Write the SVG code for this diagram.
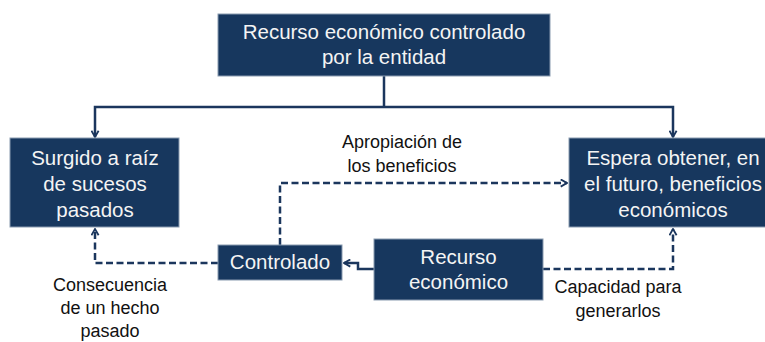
<svg xmlns="http://www.w3.org/2000/svg" width="765" height="342" viewBox="0 0 765 342">
<style>
.box{fill:#17375e;stroke:#8a9bb0;stroke-width:1}
.bt{font-family:"Liberation Sans",Arial,sans-serif;font-size:20.5px;fill:#f4f4f4;text-anchor:middle}
.lb{font-family:"Liberation Sans",Arial,sans-serif;font-size:18px;fill:#111111;text-anchor:middle}
.ln{fill:none;stroke:#1b365d;stroke-width:2.5;stroke-linejoin:miter}
.ds{fill:none;stroke:#1b365d;stroke-width:2.5;stroke-dasharray:7 3.5}
</style>
<defs>
<marker id="arr" viewBox="0 0 10 10" refX="9" refY="5" markerWidth="9" markerHeight="9" markerUnits="userSpaceOnUse" orient="auto">
<path d="M2,1 L9,5 L2,9" fill="none" stroke="#1b365d" stroke-width="2"/>
</marker>
</defs>
<rect width="765" height="342" fill="#ffffff"/>
<g id="connectors">
<polyline class="ln" points="384,76 384,107"/>
<polyline class="ln" points="384,107 95,107 95,137" marker-end="url(#arr)"/>
<polyline class="ln" points="384,107 673,107 673,137" marker-end="url(#arr)"/>
<polyline class="ln" points="374,269 358,269 358,263 344,263" marker-end="url(#arr)"/>
<polyline class="ds" points="218,263 95,263 95,229" marker-end="url(#arr)"/>
<polyline class="ds" points="280,245 280,183 567,183" marker-end="url(#arr)"/>
<polyline class="ds" points="543,269 673,269 673,229" marker-end="url(#arr)"/>
</g>
<g id="top">
<rect class="box" x="218" y="14" width="332" height="62"/>
<text class="bt" x="384" y="39">Recurso económico controlado</text>
<text class="bt" x="384" y="64">por la entidad</text>
</g>
<g id="surgido">
<rect class="box" x="10" y="138" width="169" height="89"/>
<text class="bt" x="95" y="165">Surgido a raíz</text>
<text class="bt" x="95" y="191">de sucesos</text>
<text class="bt" x="95" y="217">pasados</text>
</g>
<g id="espera">
<rect class="box" x="569" y="138" width="210" height="89"/>
<text class="bt" x="673" y="165">Espera obtener, en</text>
<text class="bt" x="673" y="191">el futuro, beneficios</text>
<text class="bt" x="673" y="217">económicos</text>
</g>
<g id="controlado">
<rect class="box" x="218" y="245" width="124" height="35"/>
<text class="bt" x="280" y="269">Controlado</text>
</g>
<g id="recurso">
<rect class="box" x="374" y="239" width="169" height="61"/>
<text class="bt" x="458.5" y="264">Recurso</text>
<text class="bt" x="458.5" y="289">económico</text>
</g>
<g id="labels">
<text class="lb" x="402" y="148">Apropiación de</text>
<text class="lb" x="402" y="172">los beneficios</text>
<text class="lb" x="110" y="291">Consecuencia</text>
<text class="lb" x="110" y="314">de un hecho</text>
<text class="lb" x="110" y="337">pasado</text>
<text class="lb" x="618" y="293">Capacidad para</text>
<text class="lb" x="618" y="317">generarlos</text>
</g>
</svg>
